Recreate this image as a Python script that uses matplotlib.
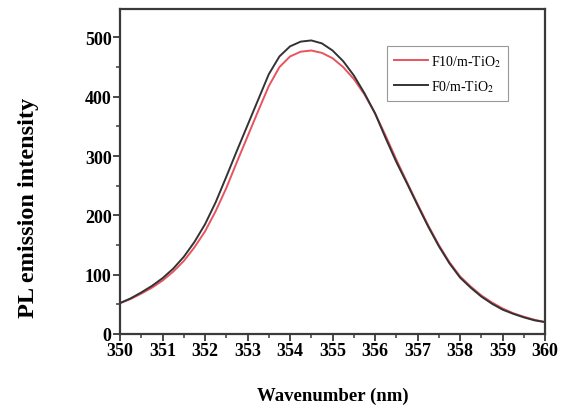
import matplotlib
matplotlib.use("Agg")
import matplotlib.pyplot as plt
from matplotlib.ticker import MultipleLocator

# wavelength grid (nm) and the two PL spectra
wavelength = [350.00, 350.25, 350.50, 350.75, 351.00, 351.25, 351.50, 351.75,
              352.00, 352.25, 352.50, 352.75, 353.00, 353.25, 353.50, 353.75,
              354.00, 354.25, 354.50, 354.75, 355.00, 355.25, 355.50, 355.75,
              356.00, 356.25, 356.50, 356.75, 357.00, 357.25, 357.50, 357.75,
              358.00, 358.25, 358.50, 358.75, 359.00, 359.25, 359.50, 359.75,
              360.00]

f10_tio2 = [52, 59, 68, 78, 90, 105, 123, 146,
            173, 207, 246, 290, 333, 376, 418, 450,
            468, 476, 478, 474, 465, 450, 430, 404,
            372, 334, 294, 256, 219, 183, 150, 121,
            97, 80, 65, 53, 43, 35, 29, 24,
            20]

f0_tio2 = [52, 60, 70, 81, 94, 110, 130, 155,
           185, 222, 265, 309, 352, 395, 438, 468,
           485, 493, 495, 490, 478, 460, 436, 406,
           372, 330, 290, 254, 217, 181, 148, 119,
           95, 78, 63, 51, 41, 34, 28, 23,
           20]

labels = ["F10/m-TiO$_2$", "F0/m-TiO$_2$"]

plt.rcParams["font.family"] = ["Liberation Serif", "DejaVu Serif"]
plt.rcParams["mathtext.fontset"] = "stix"

fig = plt.figure(figsize=(5.62, 4.10), dpi=100)
ax = fig.add_axes([0.2135, 0.183, 0.7565, 0.7926])

ax.plot(wavelength, f10_tio2, color="#e8545e", lw=1.4, label=labels[0])
ax.plot(wavelength, f0_tio2, color="#333333", lw=1.4, label=labels[1])

ax.set_xlim(350, 360)
ax.set_ylim(0, 548)
ax.xaxis.set_major_locator(MultipleLocator(1))
ax.xaxis.set_minor_locator(MultipleLocator(0.5))
ax.yaxis.set_major_locator(MultipleLocator(100))
ax.yaxis.set_minor_locator(MultipleLocator(50))

for s in ax.spines.values():
    s.set_linewidth(1.6)
    s.set_color("#3a3a3a")

ax.tick_params(which="major", direction="out", length=5, width=1.3, color="#3a3a3a",
               labelsize=13, pad=1)
ax.tick_params(which="minor", direction="out", length=3, width=1.1, color="#3a3a3a")
for t in ax.get_xticklabels() + ax.get_yticklabels():
    t.set_fontweight("bold")

ax.set_xlabel("Wavenumber (nm)", fontsize=13.5, fontweight="bold", labelpad=20)
ax.set_ylabel("PL emission intensity", fontsize=17.5, fontweight="bold")
ax.yaxis.set_label_coords(-0.19, 0.39)

leg = ax.legend(loc="upper right", bbox_to_anchor=(0.929, 0.908), fontsize=10,
                fancybox=False, framealpha=1, edgecolor="#999999",
                handlelength=2.5, handletextpad=0.2, borderpad=0.5, labelspacing=0.7)
leg.get_frame().set_linewidth(0.8)

plt.savefig("out.png", dpi=100)
